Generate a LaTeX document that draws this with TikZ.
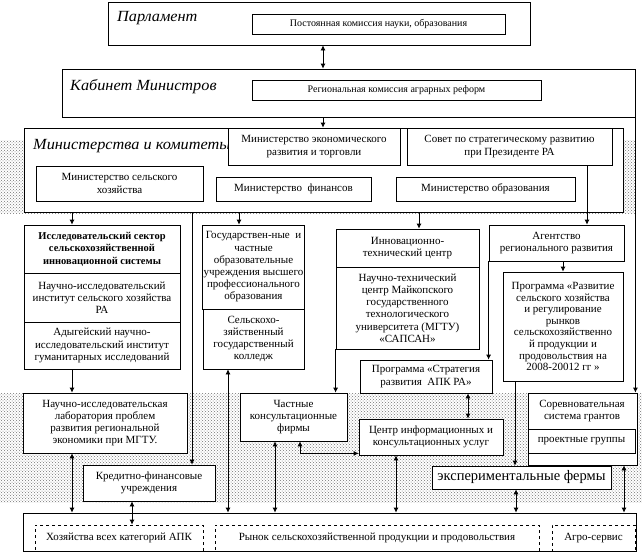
\documentclass[tikz,border=0pt]{standalone}
\usepackage{fontspec}
\setmainfont{Liberation Serif}
\newfontfamily\headfont[FakeStretch=1.05]{Liberation Serif}
\usetikzlibrary{arrows.meta,patterns}
\tikzset{
  bx/.style={draw, fill=white, inner sep=1pt, align=center, line width=0.8pt,
    font=\fontsize{11}{12.2}\selectfont},
  dbx/.style={bx, dashed},
  small/.style={font=\fontsize{10}{12}\selectfont},
  hd/.style={anchor=west, inner sep=0pt, font=\headfont\itshape\fontsize{15.5}{18}\selectfont},
  arr/.style={-{Latex[length=5pt,width=5pt]}, line width=0.8pt},
  darr/.style={{Latex[length=5pt,width=5pt]}-{Latex[length=5pt,width=5pt]}, line width=0.8pt},
  shadearea/.style={pattern=crosshatch dots, pattern color=black!55},
}
\newcommand\bx[7][]{\node[bx,#1,minimum width={(#5-#3)*1pt},minimum height={(#6-#4)*1pt}] (#2) at ({(#3+#5)/2},{(#4+#6)/2}) {#7};}
\begin{document}
\begin{tikzpicture}[x=1pt,y=-1pt]
\useasboundingbox (0,0) rectangle (642,557);
\fill[white] (0,0) rectangle (642,557);
\foreach \c in {72,132,192,228,239,275,300,323,396,419,468,515,516,563,587,624}
  \coordinate (c\c) at (\c,0);
% shaded backgrounds
\path[shadearea] (0,140) rectangle (635,213);
\path[shadearea] (0,393) rectangle (642,502);
% Parliament
\bx{P}{108}{2}{530}{45}{}
\node[hd] (Pt) at (117,18) {Парламент};
\bx[small]{PK}{252}{14}{505}{34}{Постоянная комиссия науки, образования}
% Cabinet
\bx{K}{62}{69}{635}{117}{}
\node[hd] (Kt) at (70,87) {Кабинет Министров};
\bx[small]{RK}{252}{80}{541}{100}{Региональная комиссия аграрных реформ}
% Ministries
\bx{M}{24}{128}{623}{212}{}
\begin{scope}
\clip (24,128) rectangle (228,165);
\node[hd] (Mt) at (33,146) {Министерства и комитеты};
\end{scope}
\bx{E}{228}{128}{400}{165}{Министерство экономического\\развития и торговли}
\bx{S}{407}{128}{612}{165}{Совет по стратегическому развитию\\при Президенте РА}
\bx{MSX}{36}{166}{203}{201}{Министерство сельского\\хозяйства}
\bx{MF}{216}{177}{371}{201}{Министерство\ \ финансов}
\bx{MO}{396}{177}{575}{201}{Министерство образования}
% Research sector
\bx[font=\bfseries\fontsize{10.5}{12.5}\selectfont]{IS1}{24}{225}{180}{273}{Исследовательский сектор\\сельскохозяйственной\\инновационной системы}
\bx{IS2}{24}{273}{180}{322}{Научно-исследовательский\\институт сельского хозяйства\\РА}
\bx{IS3}{24}{322}{180}{369}{Адыгейский научно-\\исследовательский институт\\гуманитарных исследований}
% Education
\bx{G1}{203}{225}{304}{309}{Государствен-ные\ \ и\\частные\\образовательные\\учреждения высшего\\профессионального\\образования}
\bx{G2}{203}{309}{304}{369}{Сельскохо-\\зяйственный\\государственный\\колледж}
% Innovation center
\bx{I1}{336}{229}{479}{267}{Инновационно-\\технический центр}
\bx{I2}{336}{267}{479}{349}{Научно-технический\\центр Майкопского\\государственного\\технологического\\университета (МГТУ)\\«САПСАН»}
% Agency and programs
\bx{A}{489}{225}{624}{261}{Агентство\\регионального развития}
\bx[font=\fontsize{11}{11.6}\selectfont]{R}{503}{272}{623}{381}{Программа «Развитие\\сельского хозяйства\\и регулирование\\рынков\\сельскохозяйственно\\й продукции и\\продовольствия на\\2008-20012 гг »}
\bx{PS}{360}{360}{492}{393}{Программа «Стратегия\\развития\ \ АПК РА»}
% Lower band
\bx{L}{23}{393}{187}{453}{Научно-исследовательская\\лаборатория проблем\\развития региональной\\экономики при МГТУ.}
\bx{C}{83}{465}{215}{501}{Кредитно-финансовые\\учреждения}
\bx{PF}{240}{393}{347}{441}{Частные\\консультационные\\фирмы}
\bx{CI}{359}{419}{503}{455}{Центр информационных и\\консультационных услуг}
\bx{SG}{528}{393}{637}{465}{}
\node[align=center, inner sep=0pt, font=\fontsize{11}{12.2}\selectfont] (SGt) at (582,411) {Соревновательная\\система грантов};
\bx{PG}{528}{429}{635}{453}{проектные группы}
\bx[font=\fontsize{14.5}{17}\selectfont]{EF}{432}{466}{611}{489}{экспериментальные фермы}
% Bottom
\bx{B}{23}{513}{636}{551}{}
\bx[dbx]{H}{35}{525}{203}{551}{Хозяйства всех категорий АПК}
\bx[dbx]{Rn}{215}{525}{539}{551}{Рынок сельскохозяйственной продукции и продовольствия}
\bx[dbx]{Ag}{552}{525}{635}{551}{Агро-сервис}
% Connectors
\draw[darr] (P.south -| c323) -- (K.north -| c323);
\draw[arr] (K.south -| c323) -- (E.north -| c323);
\draw[arr] (M.south -| c72) -- (IS1.north -| c72);
\draw[arr] (M.south -| c192) -- (C.north -| c192);
\draw[arr] (M.south -| c239) -- (G1.north -| c239);
\draw[arr] (M.south -| c419) -- (I1.north -| c419);
\draw[arr] (S.south -| c587) -- (A.north -| c587);
\draw[arr] (IS3.south -| c72) -- (L.north -| c72);
\draw[darr] (L.south -| c72) -- (B.north -| c72);
\draw[darr] (C.south -| c132) -- (H.north -| c132);
\draw[darr] (G2.south -| c228) -- (B.north -| c228);
\draw[arr] (I2.south west) -- (PF.north -| I2.south west);
\draw[arr] (A.south west) -- (PS.north -| A.south west);
\draw[arr] (A.south -| c563) -- (R.north -| c563);
\draw[arr] (R.south -| c515) -- (EF.north -| c515);
\draw[arr] (K.south east) -- (SG.north -| K.south east);
\draw[darr] (PS.south -| c468) -- (CI.north -| c468);
\draw[darr] (PF.south -| c275) -- (B.north -| c275);
\draw[darr] (PF.south -| c300) |- ([yshift=2pt]CI.south west);
\draw[darr] (CI.south -| c396) -- (B.north -| c396);
\draw[darr] (EF.south -| c516) -- (B.north -| c516);
\draw[darr] (SG.south -| c624) -- (B.north -| c624);
\end{tikzpicture}
\end{document}
